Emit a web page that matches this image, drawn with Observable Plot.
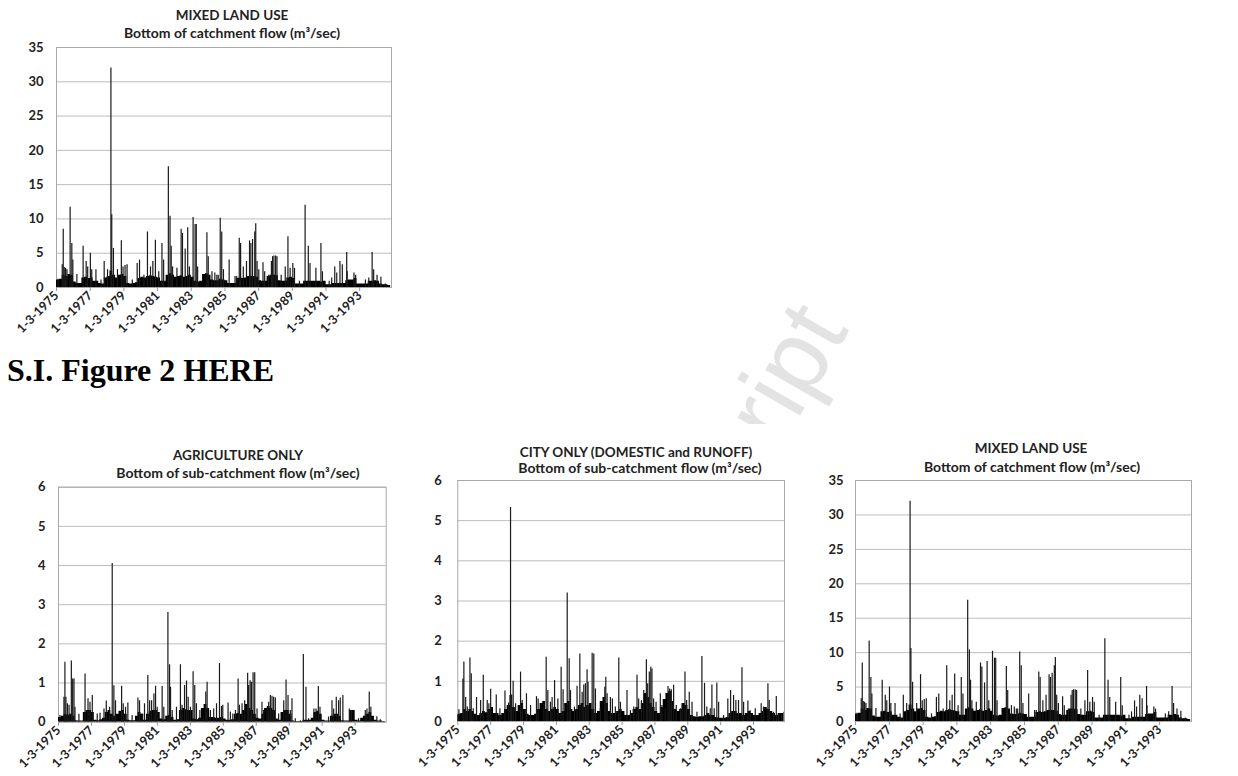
<!DOCTYPE html>
<html>
<head>
<meta charset="utf-8">
<script src="https://cdn.jsdelivr.net/npm/d3@7"></script>
<script src="https://cdn.jsdelivr.net/npm/@observablehq/plot@0.6"></script>
<style>
  html, body { margin: 0; padding: 0; background: #fff; }
  body { width: 1238px; height: 776px; position: relative; overflow: hidden; font-family: Lato, "Open Sans", sans-serif; }
  .title { position: absolute; transform: translateX(-50%); white-space: nowrap; font-weight: bold; color: #222; line-height: 14px; }
  .t1 { font-size: 13.5px; }
  .t2 { font-size: 14px; }
  .wm { position: absolute; left: 0; top: 0; }
  .si { position: absolute; left: 7px; top: 352px; font-family: "Liberation Serif", serif; font-weight: bold; font-size: 32px; color: #000; white-space: nowrap; }
</style>
</head>
<body>
<svg class="wm" width="1238" height="424"><text x="780" y="450" transform="rotate(-60 780 450)" font-family="Liberation Sans, sans-serif" font-size="100" fill="#e3e3e3">ript</text></svg>
<div class="si">S.I. Figure 2 HERE</div>
<div id="root"></div>
<script>
// ---------- DATA ----------
const xTickLabels = ["1-3-1975","1-3-1977","1-3-1979","1-3-1981","1-3-1983","1-3-1985","1-3-1987","1-3-1989","1-3-1991","1-3-1993"];
const yTicksMixed = [0, 5, 10, 15, 20, 25, 30, 35];
const yTicksSub = [0, 1, 2, 3, 4, 5, 6];

// Mixed land use: spike dates (decimal years) and flows (m3/sec)
const mixedT = [1975.25,1975.50,1975.56,1975.62,1975.70,1975.78,1975.97,1976.07,1976.13,1976.37,1976.74,1976.92,1977.01,1977.17,1977.25,1977.50,1977.80,1977.99,1978.19,1978.39,1978.44,1978.54,1978.78,1979.01,1979.11,1979.23,1979.35,1979.66,1979.95,1980.09,1980.35,1980.56,1980.74,1980.88,1981.03,1981.23,1981.42,1981.52,1981.80,1981.90,1981.97,1982.05,1982.31,1982.56,1982.64,1982.80,1982.95,1983.05,1983.27,1983.39,1983.46,1983.54,1984.09,1984.17,1984.39,1984.56,1984.76,
  1984.68,1984.88,1984.97,1985.07,1985.41,1985.76,1985.86,1986.01,1986.09,1986.25,1986.44,1986.62,1986.70,1986.80,1986.93,1986.99,1987.07,1987.17,1987.42,1987.52,1987.76,1987.92,1987.99,1988.07,1988.17,1988.25,1988.50,1988.74,1988.90,1989.03,1989.19,1989.29,1989.58,1989.92,1990.11,1990.21,1990.56,1990.86,1990.95,1991.35,1991.50,1991.68,1991.80,1991.99,1992.13,1992.39,1992.42,1992.82,1992.92,1993.50,1993.70,1993.90,1993.99,1994.19,1994.42,1994.68];
const mixedV = [1.2,3.3,8.5,2.9,2.8,2.6,11.7,6.4,4.0,1.9,6.0,3.8,3.0,5.0,2.6,2.6,1.1,3.8,2.6,32.0,10.6,5.7,2.6,6.8,3.0,3.2,3.3,1.1,3.5,4.0,1.8,8.1,3.0,3.8,6.9,2.3,6.4,4.0,17.6,10.4,6.0,3.0,2.8,8.5,7.9,5.6,8.7,3.0,10.2,9.2,9.2,3.0,8.0,4.5,2.3,2.1,1.8,
  1.8,10.1,8.1,2.6,4.0,1.6,1.6,7.2,6.4,3.0,3.8,6.8,6.4,7.0,8.1,9.3,3.8,2.6,3.6,2.3,1.8,3.8,4.5,4.6,4.6,4.5,1.8,3.0,7.4,2.8,3.5,2.8,0.9,12.0,6.0,3.5,2.8,6.4,2.3,0.9,1.4,3.0,2.1,3.8,3.3,5.1,2.3,2.1,1.8,1.1,1.4,5.1,2.6,1.8,1.5,0.5];
// Mixed: dense low-flow level, two-monthly from Jan 1975
const mixedBase = [
  1.0,1.1,1.2,1.8,1.6,1.9, 1.8,0.8,0.6,0.6,1.4,1.5, 1.3,1.4,0.9,0.9,0.6,0.5, 1.4,1.6,2.4,1.8,1.4,1.8,
  1.9,1.6,0.6,0.5,0.6,0.7, 1.3,1.5,1.4,1.6,1.7,1.6, 1.5,1.4,0.9,0.9,1.8,2.0, 1.8,1.5,1.6,1.7,1.5,1.6,
  1.8,1.5,0.9,0.8,0.9,1.9, 2.0,1.8,1.1,1.0,1.0,1.2, 1.1,1.0,0.6,0.6,0.6,1.3, 1.4,1.3,1.4,1.6,1.6,1.6,
  1.5,1.0,0.9,0.9,1.6,1.8, 1.8,1.7,1.0,0.9,0.9,1.4, 1.5,1.3,0.5,0.5,0.5,0.9, 0.9,0.9,0.9,0.9,0.9,0.8,
  0.9,0.4,0.4,0.6,0.6,0.6, 0.6,0.6,1.0,1.1,1.1,1.3, 0.5,0.5,0.5,0.5,0.9,0.9, 1.0,0.9,0.5,0.4,0.4,0.3, 0.3];

// Agriculture only
const agriT = [1975.25,1975.49,1975.55,1975.61,1975.70,1975.80,1975.94,1976.02,1976.10,1976.16,1976.40,1976.77,1976.95,1977.07,1977.21,1977.51,1977.68,1977.92,1978.06,1978.26,1978.42,1978.52,1978.62,1978.99,1979.09,1979.23,1979.37,1979.63,1979.98,1980.08,1980.24,1980.38,1980.58,1980.69,1980.81,1980.95,1981.05,1981.15,1981.45,1981.55,1981.80,1981.90,1981.96,1982.06,1982.32,1982.56,1982.66,1982.81,1982.93,1983.03,1983.17,1983.33,1983.43,1983.53,1983.74,1983.94,1984.10,1984.18,1984.38,1984.58,1984.75,
  1984.93,1985.05,1985.13,1985.45,1985.59,1985.74,1985.90,1986.06,1986.14,1986.30,1986.46,1986.64,1986.70,1986.79,1986.87,1986.97,1987.07,1987.21,1987.51,1987.61,1987.82,1987.92,1988.02,1988.12,1988.22,1988.32,1988.52,1988.83,1988.97,1989.09,1989.23,1989.33,1989.53,1989.84,1990.02,1990.18,1990.34,1990.66,1990.79,1990.93,1991.03,1991.55,1991.76,1991.86,1992.02,1992.16,1992.26,1992.42,1992.81,1992.93,1993.37,1993.78,1993.88,1994.02,1994.12,1994.48,1994.69];
const agriV = [0.17,0.64,1.53,0.64,0.47,0.43,1.56,1.1,1.1,0.38,0.2,1.23,0.6,0.51,0.68,0.21,0.23,0.34,0.54,0.38,4.05,0.93,0.55,0.92,0.47,0.38,0.49,0.17,0.62,0.55,0.21,0.47,1.19,0.55,0.55,0.72,0.92,0.38,0.91,0.38,2.8,1.47,0.89,0.3,0.38,1.47,0.43,0.94,1.05,0.64,0.38,1.29,0.94,0.47,0.3,0.09,0.77,1.02,0.3,0.34,0.47,
  1.5,0.4,0.43,0.49,0.26,0.21,0.3,1.1,0.43,0.47,0.55,1.25,0.94,1.06,1.02,1.26,1.26,0.34,0.51,0.3,0.34,0.51,0.68,0.66,0.64,0.62,0.21,0.55,1.08,0.68,0.3,0.6,0.09,0.04,1.73,0.89,0.09,0.34,0.34,0.91,0.38,0.13,0.55,0.34,0.64,0.55,0.62,0.68,0.34,0.3,0.09,0.3,0.34,0.77,0.38,0.14,0.06];
const agriBase = [
  0.10,0.12,0.15,0.20,0.18,0.20, 0.15,0.04,0.03,0.03,0.25,0.30, 0.30,0.25,0.05,0.04,0.06,0.10, 0.25,0.30,0.20,0.15,0.20,0.28,
  0.30,0.20,0.05,0.04,0.04,0.15, 0.25,0.20,0.05,0.20,0.28,0.30, 0.30,0.25,0.08,0.06,0.15,0.18, 0.12,0.05,0.06,0.30,0.35,0.32,
  0.30,0.30,0.08,0.06,0.10,0.35, 0.45,0.35,0.12,0.12,0.10,0.10, 0.12,0.08,0.05,0.05,0.06,0.20, 0.22,0.20,0.30,0.45,0.35,0.30,
  0.20,0.10,0.08,0.20,0.35,0.40, 0.35,0.30,0.08,0.05,0.25,0.30, 0.30,0.20,0.03,0.02,0.02,0.02, 0.05,0.05,0.05,0.10,0.25,0.28,
  0.20,0.05,0.03,0.03,0.15,0.20, 0.20,0.15,0.04,0.03,0.03,0.30, 0.30,0.05,0.03,0.10,0.15,0.20, 0.25,0.15,0.05,0.03,0.03,0.02, 0.02];

// City only (domestic and runoff)
const cityT = [1975.23,1975.47,1975.53,1975.64,1975.74,1975.90,1975.98,1976.10,1976.30,1976.55,1976.71,1976.95,1977.05,1977.16,1977.50,1977.72,1978.03,1978.25,1978.37,1978.43,1978.53,1978.68,1978.98,1979.08,1979.34,1979.59,1979.95,1980.05,1980.40,1980.54,1980.64,1980.80,1980.90,1981.05,1981.25,1981.45,1981.57,1981.82,1981.94,1982.02,1982.26,1982.42,1982.59,1982.73,1982.83,1982.93,1983.03,1983.09,1983.34,1983.44,1983.54,1983.84,1984.11,1984.17,1984.25,1984.45,1984.57,1984.75,
  1984.96,1985.06,1985.46,1985.67,1985.87,1986.07,1986.17,1986.34,1986.48,1986.64,1986.72,1986.82,1986.91,1986.98,1987.08,1987.23,1987.49,1987.59,1987.79,1987.96,1988.06,1988.16,1988.30,1988.46,1988.71,1988.81,1988.99,1989.09,1989.25,1989.42,1989.72,1990.02,1990.18,1990.32,1990.53,1990.63,1990.77,1990.93,1991.04,1991.34,1991.60,1991.77,1991.95,1992.09,1992.25,1992.46,1992.56,1992.82,1992.96,1993.27,1993.63,1993.77,1994.04,1994.12,1994.38,1994.55,1994.69,1994.89,1995.02];
const cityV = [0.29,1.06,1.48,0.6,0.36,1.58,1.19,0.32,0.6,0.52,1.15,0.52,0.44,0.8,0.66,0.32,0.76,0.46,5.33,0.66,1.0,0.44,1.23,0.52,0.69,0.4,0.62,0.56,0.44,1.6,0.77,0.48,0.6,1.02,0.56,1.35,0.79,3.2,1.56,0.77,0.36,0.88,1.68,0.73,0.91,0.94,1.29,0.98,1.7,1.68,0.81,0.32,0.85,1.1,0.69,0.6,0.56,0.36,
  1.58,0.48,0.77,0.27,0.36,1.15,0.56,0.52,0.77,1.54,0.94,1.23,1.35,1.31,0.56,0.48,0.69,0.4,0.32,0.87,0.81,0.79,0.9,0.4,0.32,0.44,1.23,0.52,0.73,0.48,0.23,1.62,0.95,0.36,0.32,0.91,0.32,0.96,0.48,0.15,0.56,0.77,0.65,0.52,0.52,1.34,0.48,0.51,0.27,0.32,0.44,0.36,0.94,0.52,0.23,0.62,0.19,0.15,0.23];
const cityBase = [
  0.15,0.18,0.20,0.30,0.25,0.30, 0.25,0.18,0.15,0.20,0.25,0.22, 0.30,0.35,0.20,0.20,0.15,0.20, 0.30,0.40,0.65,0.35,0.25,0.40,
  0.45,0.30,0.18,0.15,0.15,0.18, 0.30,0.45,0.50,0.30,0.25,0.30, 0.35,0.30,0.20,0.25,0.45,0.50, 0.30,0.25,0.30,0.40,0.45,0.35,
  0.40,0.45,0.30,0.20,0.25,0.50, 0.60,0.45,0.25,0.20,0.20,0.25, 0.30,0.25,0.15,0.15,0.20,0.30, 0.35,0.30,0.45,0.70,0.60,0.45,
  0.35,0.25,0.20,0.35,0.55,0.70, 0.75,0.50,0.30,0.25,0.30,0.45, 0.40,0.30,0.15,0.12,0.10,0.12, 0.12,0.15,0.20,0.15,0.15,0.10,
  0.08,0.08,0.08,0.10,0.20,0.25, 0.25,0.20,0.20,0.15,0.20,0.25, 0.20,0.15,0.15,0.20,0.25,0.35, 0.30,0.25,0.20,0.15,0.20,0.20, 0.20];

// ---------- HELPERS ----------
const dec = t => { const y = Math.floor(t); const s = Date.UTC(y,0,1), e = Date.UTC(y+1,0,1); return new Date(s + (t - y) * (e - s)); };
const tickDates = xTickLabels.map(s => { const [d, m, y] = s.split("-").map(Number); return new Date(Date.UTC(y, m - 1, d)); });
const fmt = d => `${d.getUTCDate()}-${d.getUTCMonth() + 1}-${d.getUTCFullYear()}`;
const xDomain = [dec(1975.16), dec(1995.05)];

function chart({T, V, base, yMax, yTicks, left, top, width, height, mL, mR, mT, mB, yPad}) {
  const spikes = T.map((t, i) => ({date: dec(t), v: V[i]}));
  const baseData = base.map((v, i) => ({date: dec(1975 + i / 6), v}));
  const svg = Plot.plot({
    width, height,
    marginLeft: mL, marginRight: mR, marginTop: mT, marginBottom: mB,
    style: {fontFamily: "Lato, 'Open Sans', sans-serif", background: "transparent", overflow: "visible"},
    x: {type: "utc", domain: xDomain},
    y: {domain: [0, yMax]},
    marks: [
      Plot.gridY(yTicks, {stroke: "#bdbdbd", strokeOpacity: 1}),
      Plot.frame({stroke: "#a8a8a8"}),
      Plot.areaY(baseData, {x: "date", y: "v", curve: "step-after", fill: "#000", clip: true}),
      Plot.ruleX(spikes, {x: "date", y1: 0, y2: "v", stroke: "#1a1a1a", strokeWidth: 1.2, clip: true}),
      Plot.axisY(yTicks, {label: null, tickSize: 0, tickPadding: yPad, fontSize: 13, fontWeight: "bold", fill: "#222"}),
      Plot.axisX(tickDates, {label: null, tickRotate: -45, tickSize: 4, tickPadding: 2, stroke: "#999", fill: "#222", fontSize: 12.5, fontWeight: "bold", tickFormat: fmt})
    ]
  });
  svg.style.position = "absolute";
  svg.style.left = left + "px";
  svg.style.top = top + "px";
  document.getElementById("root").appendChild(svg);
}

function title(text, cx, cy, cls) {
  const d = document.createElement("div");
  d.className = "title " + cls;
  d.textContent = text;
  d.style.left = cx + "px";
  d.style.top = (cy - 7) + "px";
  document.getElementById("root").appendChild(d);
}

// Top: mixed land use
chart({T: mixedT, V: mixedV, base: mixedBase, yMax: 35, yTicks: yTicksMixed, left: 0, top: 40, width: 400, height: 310, mL: 56, mR: 9, mT: 7, mB: 63, yPad: 13});
title("MIXED LAND USE", 232, 15, "t1");
title("Bottom of catchment flow (m³/sec)", 232, 33, "t2");

// Bottom left: agriculture
chart({T: agriT, V: agriV, base: agriBase, yMax: 6, yTicks: yTicksSub, left: 0, top: 480, width: 400, height: 296, mL: 58, mR: 14.3, mT: 6.7, mB: 54.3, yPad: 13});
title("AGRICULTURE ONLY", 238, 455, "t1");
title("Bottom of sub-catchment flow (m³/sec)", 238, 473, "t2");

// Bottom middle: city
chart({T: cityT, V: cityV, base: cityBase, yMax: 6, yTicks: yTicksSub, left: 410, top: 474, width: 384, height: 302, mL: 47.3, mR: 10, mT: 6, mB: 55, yPad: 16});
title("CITY ONLY (DOMESTIC and RUNOFF)", 636, 451.5, "t1");
title("Bottom of sub-catchment flow (m³/sec)", 640, 467.5, "t2");

// Bottom right: mixed land use
chart({T: mixedT, V: mixedV, base: mixedBase, yMax: 35, yTicks: yTicksMixed, left: 810, top: 474, width: 420, height: 302, mL: 45, mR: 39, mT: 6, mB: 55, yPad: 12});
title("MIXED LAND USE", 1031, 448, "t1");
title("Bottom of catchment flow (m³/sec)", 1032, 467, "t2");
</script>
</body>
</html>
